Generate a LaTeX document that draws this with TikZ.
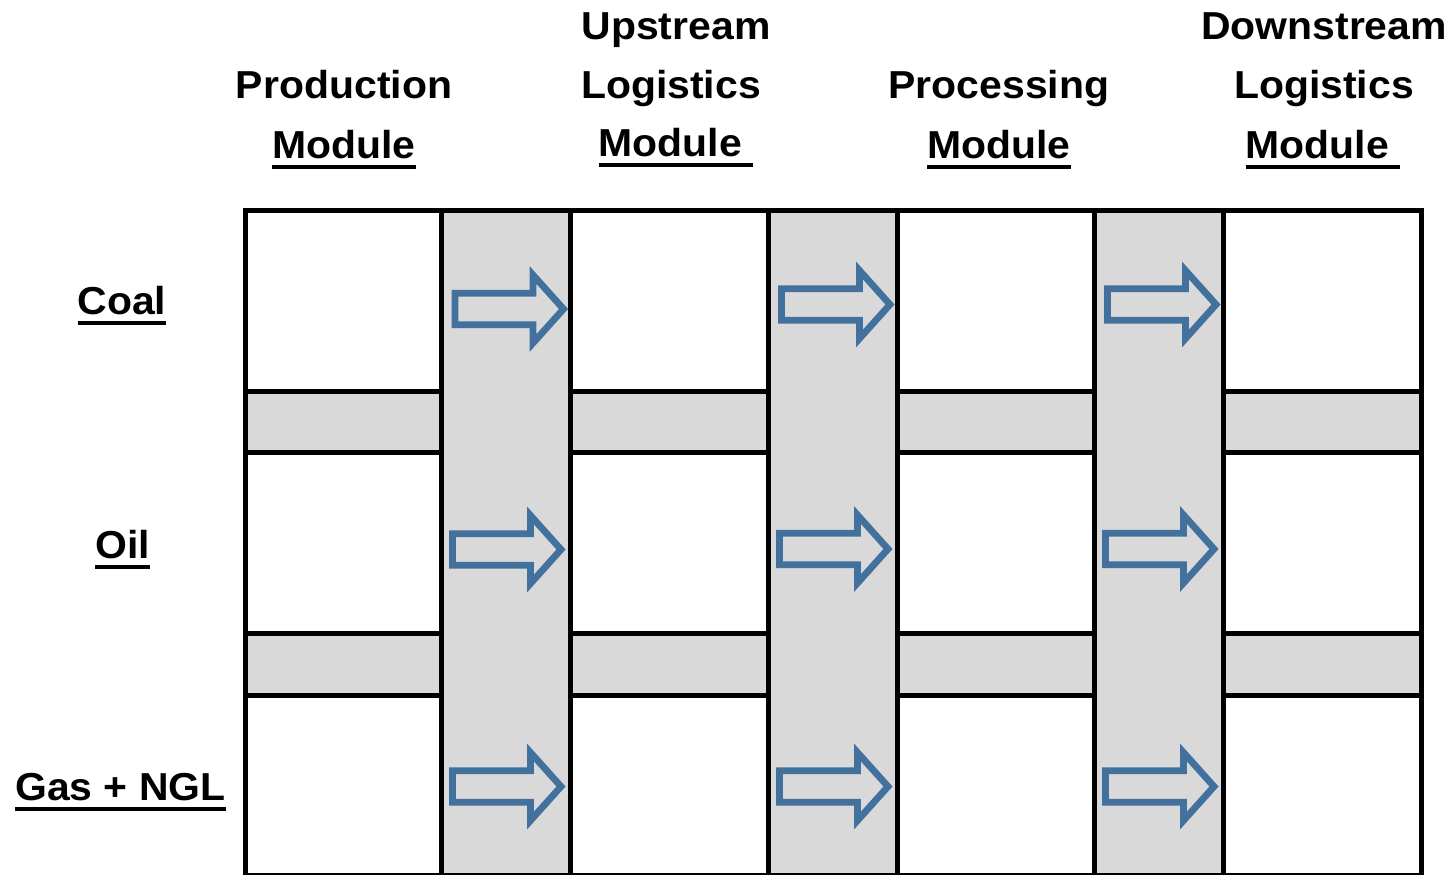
\documentclass[tikz,border=0pt]{standalone}
\usepackage{fontspec}
\newfontfamily\lblfont{Liberation Sans}[FakeStretch=1.05]
\definecolor{bandgray}{HTML}{D9D9D9}
\definecolor{arrowblue}{HTML}{41719C}
% underlined word: rule set below the baseline, as wide as the text
\newcommand\ulx[1]{\setbox0=\hbox{#1}\rlap{\rule[-5.3pt]{\wd0}{2pt}}\box0}
\tikzset{
  gridline/.style={line width=2.5pt, draw=black},
  arrowline/.style={draw=arrowblue, line width=3.4pt, line join=miter},
  lbl/.style={font=\lblfont\bfseries\fontsize{19.5pt}{23pt}\selectfont, inner sep=0pt, anchor=base},
  blockarrow/.pic={
    \draw[arrowline] (0,-15.8) -- (78,-15.8) -- (78,-34) -- (108.5,0)
      -- (78,34) -- (78,15.8) -- (0,15.8) -- cycle;
  }
}
\begin{document}
\begin{tikzpicture}[x=0.5pt,y=-0.5pt]
\useasboundingbox (0,0) rectangle (1455,874);
% shaded transfer columns
\foreach \a/\b in {441.5/570.5, 768/897, 1094.7/1223.3}
  \fill[bandgray] (\a,210.5) rectangle (\b,875);
% module columns: shaded bands and their borders
\foreach \a/\b in {245/441.5, 570.5/768, 897/1094.7, 1223.3/1421.4} {
  \fill[bandgray] (\a,391.7) rectangle (\b,452);
  \fill[bandgray] (\a,633.5) rectangle (\b,695);
  \draw[gridline] (\a,391.7) -- (\b,391.7) (\a,452) -- (\b,452)
                  (\a,633.5) -- (\b,633.5) (\a,695) -- (\b,695);
}
\foreach \x in {441.5,570.5,768,897,1094.7,1223.3}
  \draw[gridline] (\x,210.5) -- (\x,875);
\draw[gridline] (245,210.5) rectangle (1421.4,875);
% flow arrows
\foreach \x/\y/\n in {455/309/arCoalA, 452.5/549.5/arOilA, 452.5/786.5/arGasA,
                      781.5/304.5/arCoalB, 779.5/549/arOilB, 779.5/786.5/arGasB,
                      1107.5/304.5/arCoalC, 1105.5/549/arOilC, 1105.5/786.5/arGasC}
  \pic (\n) at (\x,\y) {blockarrow};
% column headings
\node[lbl] (prodA) at (344,98.5) {Production};
\node[lbl] (prodB) at (344,158.5) {\ulx{Module}};
\node[lbl] (upA) at (676,39.5) {Upstream};
\node[lbl] (upB) at (671,98.5) {Logistics};
\node[lbl] (upC) at (676,156.5) {\ulx{Module\ }};
\node[lbl] (procA) at (999,98.5) {Processing};
\node[lbl] (procB) at (999,158.5) {\ulx{Module}};
\node[lbl] (downA) at (1324,39.5) {Downstream};
\node[lbl] (downB) at (1324,98.5) {Logistics};
\node[lbl] (downC) at (1323,158.5) {\ulx{Module\ }};
% row headings
\node[lbl] (coal) at (122,314) {\ulx{Coal}};
\node[lbl] (oil) at (122.5,558) {\ulx{Oil}};
\node[lbl] (gas) at (120.5,800) {\ulx{Gas + NGL}};
\end{tikzpicture}
\end{document}
